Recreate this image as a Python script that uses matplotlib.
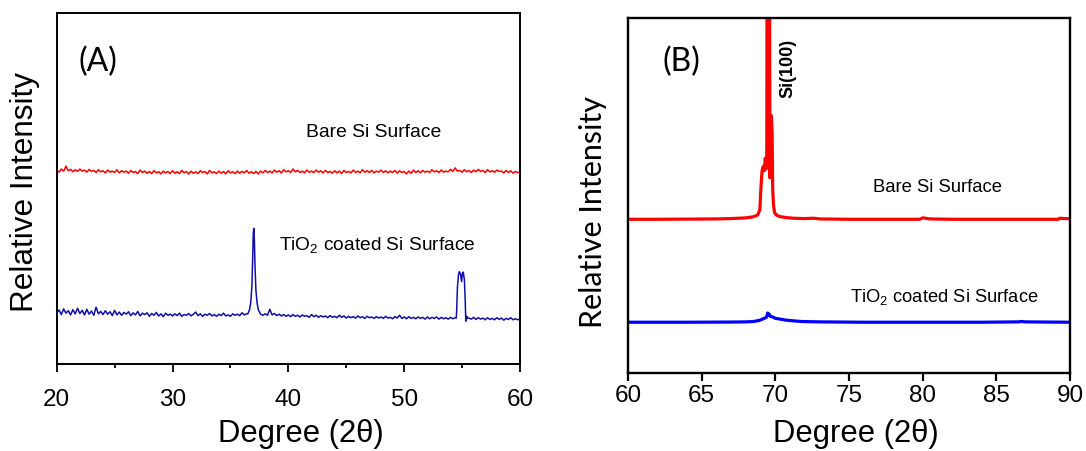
import numpy as np
import matplotlib
matplotlib.use("Agg")
import matplotlib.pyplot as plt

plt.rcParams["font.family"] = ["Liberation Sans", "DejaVu Sans"]
plt.rcParams["mathtext.default"] = "regular"

# ---- panel A: 20-60 deg scan ----
# baseline readings on a 0.2 deg scan grid, 20.0 .. 60.0
red_a_y = [55.3, 54.7, 55.6, 55.0, 56.4, 55.1, 55.5, 54.8, 55.4, 54.9,
           55.6, 55.0, 55.3, 54.7, 55.5, 54.9, 55.2, 54.6, 55.4, 54.8,
           55.1, 54.5, 55.3, 54.7, 55.0, 54.6, 55.4, 54.5, 55.1, 54.7,
           55.0, 54.4, 55.2, 54.6, 54.9, 54.3, 55.3, 54.6, 55.0, 54.4,
           54.9, 54.3, 55.1, 54.5, 54.8, 54.2, 55.0, 54.5, 54.9, 54.3,
           55.1, 54.4, 54.8, 54.3, 55.2, 54.5, 54.9, 54.2, 55.0, 54.4,
           54.8, 54.3, 55.1, 54.6, 54.9, 54.2, 55.2, 54.5, 54.8, 54.3,
           55.0, 54.4, 54.9, 54.2, 55.1, 54.5, 54.8, 54.3, 55.0, 54.4,
           54.9, 54.5, 55.2, 54.4, 54.8, 54.3, 54.9, 54.2, 55.0, 54.5,
           55.2, 54.6, 55.0, 54.5, 55.3, 54.7, 55.1, 54.5, 55.4, 54.8,
           55.1, 54.6, 55.6, 54.8, 55.2, 54.6, 55.0, 54.5, 55.3, 54.7,
           55.0, 54.6, 55.3, 54.7, 55.1, 54.5, 55.2, 54.6, 54.9, 54.4,
           55.1, 54.5, 55.0, 54.3, 55.2, 54.6, 54.9, 54.5, 55.3, 54.6,
           55.0, 54.5, 55.4, 54.7, 55.1, 54.6, 55.2, 54.5, 55.0, 54.7,
           55.3, 54.6, 55.1, 54.5, 55.0, 54.6, 55.2, 54.4, 55.1, 54.6,
           54.9, 54.2, 55.0, 54.4, 55.3, 54.6, 55.1, 54.5, 55.2, 54.7,
           55.0, 54.6, 55.4, 54.8, 55.1, 54.6, 55.3, 54.7, 55.0, 54.8,
           55.5, 54.9, 55.9, 55.0, 55.2, 54.7, 55.4, 54.8, 55.2, 54.6,
           55.3, 54.8, 55.5, 54.9, 55.2, 54.6, 55.4, 54.8, 55.1, 54.7,
           55.3, 54.9, 55.0, 54.5, 55.2, 54.6, 55.1, 54.4, 54.9, 54.6,
           54.7]
blue_a_base_y = [14.6, 15.4, 14.1, 15.7, 14.5, 15.2, 14.0, 15.5, 14.3, 15.9,
                 14.4, 15.3, 14.0, 15.6, 14.2, 15.1, 13.9, 16.2, 14.3, 15.0,
                 14.1, 15.2, 14.2, 14.9, 13.8, 15.3, 14.0, 14.8, 13.9, 14.7,
                 14.2, 14.9, 13.8, 14.6, 14.0, 15.0, 13.7, 14.5, 14.1, 14.6,
                 13.6, 14.4, 13.9, 14.7, 13.7, 14.3, 13.5, 14.5, 13.9, 14.2,
                 13.7, 14.3, 13.8, 14.5, 13.6, 14.1, 13.9, 14.4, 13.7, 14.2,
                 14.8, 13.8, 14.3, 13.6, 14.2, 13.9, 14.4, 13.7, 14.1, 13.6,
                 14.2, 13.8, 14.5, 13.7, 14.0, 13.6, 14.3, 13.9, 14.2, 13.8,
                 14.6, 14.0, 14.3, 14.0, 14.0, 14.0, 14.0, 14.0, 14.2, 13.9,
                 14.3, 13.9, 15.6, 14.0, 14.4, 13.8, 14.2, 13.7, 14.1, 13.6,
                 14.0, 13.5, 14.1, 13.6, 13.9, 13.4, 14.0, 13.6, 13.8, 13.3,
                 14.1, 13.5, 13.9, 13.3, 13.8, 13.4, 13.7, 13.2, 13.8, 13.3,
                 13.6, 13.2, 13.9, 13.3, 13.7, 13.1, 13.6, 13.2, 13.5, 13.1,
                 13.7, 13.2, 13.5, 13.0, 13.6, 13.2, 13.4, 13.0, 13.5, 13.1,
                 13.4, 13.0, 13.6, 13.1, 13.3, 12.9, 13.5, 13.1, 13.9, 13.0,
                 13.4, 12.9, 13.5, 13.0, 13.3, 12.9, 13.4, 13.0, 13.3, 12.8,
                 13.4, 12.9, 13.3, 13.0, 13.4, 12.8, 13.3, 12.9, 13.2, 12.8,
                 13.3, 12.9, 13.2, 13.0, 13.0, 13.0, 13.0, 13.0, 13.1, 12.8,
                 13.3, 12.7, 13.2, 12.8, 13.1, 12.6, 13.2, 12.7, 13.0, 12.6,
                 13.2, 12.7, 13.1, 12.5, 13.0, 12.7, 13.2, 12.6, 12.9, 12.6,
                 12.9]
# TiO2 reflections
peak1_x = [36.5, 36.65, 36.75, 36.85, 36.92, 36.97, 37.02, 37.07, 37.12, 37.2, 37.3, 37.4, 37.55]
peak1_y = [14.3, 15.5, 17.5, 22.0, 30.0, 37.0, 38.7, 35.0, 28.0, 21.0, 17.5, 15.5, 14.5]
peak2_x = [54.5, 54.53, 54.6, 54.7, 54.77, 54.86, 54.96, 55.03, 55.1, 55.2, 55.27, 55.32, 55.4, 55.45]
peak2_y = [13.1, 15.0, 22.0, 25.8, 26.3, 25.6, 23.5, 26.0, 26.2, 24.0, 18.0, 12.2, 13.6, 13.0]

# ---- panel B: 60-90 deg scan ----
red_b_x = [60, 62, 64, 66, 67, 68, 68.5, 68.8, 68.95, 69.02, 69.1, 69.18, 69.25, 69.32,
           69.38, 69.42, 69.47, 69.53, 69.58, 69.63, 69.68, 69.73, 69.78, 69.82, 69.88,
           69.95, 70.05, 70.2, 70.4, 70.7, 71.2, 72, 72.6, 73, 75, 78, 79.8, 80.0, 80.2,
           80.5, 82, 85, 88, 89.2, 89.3, 89.6, 90]
red_b_y = [43.3, 43.3, 43.35, 43.4, 43.5, 43.7, 44.0, 44.5, 46.0, 52.0, 57.0, 58.2, 57.0,
           60.5, 57.5, 60.0, 200.0, 150.0, 200.0, 55.0, 70.0, 72.5, 68.0, 52.0, 47.0,
           45.2, 44.6, 44.2, 44.0, 43.8, 43.6, 43.5, 43.6, 43.4, 43.3, 43.3, 43.3, 43.7,
           43.6, 43.4, 43.3, 43.3, 43.3, 43.3, 43.6, 43.5, 43.5]
blue_b_x = [60, 64, 67, 68, 68.5, 68.9, 69.2, 69.4, 69.48, 69.53, 69.58, 69.65, 69.8, 70.0,
            70.3, 70.7, 71.2, 71.8, 73, 76, 80, 84, 86.5, 86.7, 87, 90]
blue_b_y = [14.3, 14.3, 14.35, 14.4, 14.5, 14.8, 15.3, 15.7, 16.9, 16.3, 16.6, 16.0, 15.8,
            15.4, 15.2, 14.9, 14.7, 14.5, 14.4, 14.3, 14.3, 14.3, 14.4, 14.5, 14.4, 14.3]

xticks_a = [20, 30, 40, 50, 60]
xticks_b = [60, 65, 70, 75, 80, 85, 90]

W, H = 1086, 451


def fx(x):
    return x / W


def fy(y):
    return 1 - y / H


# assemble panel A blue trace: grid baseline with the two peak windows swapped out
grid_a = np.linspace(20, 60, len(red_a_y))
base_x = np.linspace(20, 60, len(blue_a_base_y))
base_y = np.array(blue_a_base_y)
keep = ~(((base_x > 36.45) & (base_x < 37.58)) | ((base_x > 54.45) & (base_x < 55.5)))
bx = np.concatenate([base_x[keep], peak1_x, peak2_x])
by = np.concatenate([base_y[keep], peak1_y, peak2_y])
order = np.argsort(bx)
bx, by = bx[order], by[order]

fig = plt.figure(figsize=(W / 100, H / 100), dpi=100, facecolor="white")

# ---------------- (A) ----------------
axA = fig.add_axes([fx(56.7), fy(364), (520 - 56.7) / W, (364 - 13.3) / H])
axA.plot(grid_a, red_a_y, color="#ff0000", lw=1.1)
axA.plot(bx, by, color="#1010a8", lw=1.1)
axA.set_xlim(20, 60)
axA.set_ylim(0, 100)
axA.set_yticks([])
axA.set_xticks(xticks_a)
axA.set_xticks([25, 35, 45, 55], minor=True)
axA.tick_params(axis="x", which="major", direction="out", length=6, width=1.3,
                labelsize=17.5, pad=12)
axA.tick_params(axis="x", which="minor", direction="out", length=3, width=1.3)
for s in axA.spines.values():
    s.set_linewidth(1.4)

fig.text(fx(25), fy(192), "Relative Intensity", rotation=90, ha="center",
         va="center", fontsize=22.7)
fig.text(fx(301), fy(434), "Degree (2θ)", ha="center", va="center", fontsize=22.3)
fig.text(fx(78), fy(62), "(A)", family=["Lato", "DejaVu Sans"], fontsize=23,
         ha="left", va="center")
fig.text(fx(306), fy(137), "Bare Si Surface", fontsize=13.9, va="baseline")
fig.text(fx(279), fy(250), "TiO$_2$ coated Si Surface", fontsize=13.8, va="baseline")

# ---------------- (B) ----------------
axB = fig.add_axes([fx(628), fy(373), (1070 - 628) / W, (373 - 18) / H])
axB.plot(red_b_x, red_b_y, color="#ff0000", lw=2.3, solid_joinstyle="round")
axB.plot(blue_b_x, blue_b_y, color="#0000ff", lw=2.3, solid_joinstyle="round")
axB.set_xlim(60, 90)
axB.set_ylim(0, 100)
axB.set_yticks([])
axB.set_xticks(xticks_b)
axB.tick_params(axis="x", which="major", direction="out", length=6, width=1.6,
                labelsize=17.5, pad=3)
for s in axB.spines.values():
    s.set_linewidth(1.7)

fig.text(fx(593), fy(212), "Relative Intensity", rotation=90, ha="center",
         va="center", fontsize=22, family=["Lato", "DejaVu Sans"])
fig.text(fx(856), fy(434), "Degree (2θ)", ha="center", va="center", fontsize=22.3)
fig.text(fx(662), fy(62), "(B)", family=["Lato", "DejaVu Sans"], fontsize=23,
         ha="left", va="center")
fig.text(fx(788), fy(68), "Si(100)", rotation=90, ha="center", va="center",
         fontsize=13, fontweight="bold")
fig.text(fx(873), fy(192), "Bare Si Surface", fontsize=13.3, va="baseline")
fig.text(fx(850), fy(302), "TiO$_2$ coated Si Surface", fontsize=13.2, va="baseline")

fig.savefig("out.png", dpi=100, facecolor="white")
